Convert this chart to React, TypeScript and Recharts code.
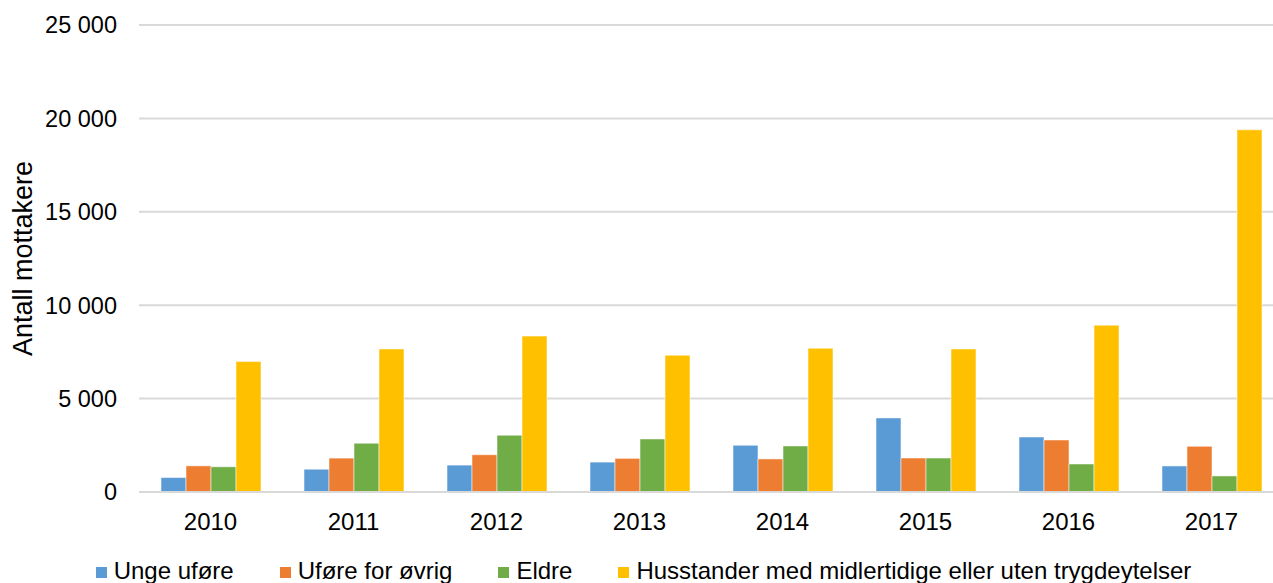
import { BarChart, Bar, XAxis, YAxis, CartesianGrid, Legend } from 'recharts'

const years = ['2010', '2011', '2012', '2013', '2014', '2015', '2016', '2017']
const ungeUfore = [775, 1220, 1440, 1600, 2500, 3965, 2945, 1395]
const uforeOvrig = [1400, 1815, 1995, 1800, 1770, 1820, 2785, 2445]
const eldre = [1350, 2610, 3040, 2840, 2465, 1820, 1500, 860]
const husstander = [6980, 7660, 8345, 7320, 7695, 7660, 8930, 19390]
const yTicks = [0, 5000, 10000, 15000, 20000, 25000]

const series = [
  { key: 'unge', name: 'Unge uføre', color: '#5B9BD5' },
  { key: 'ovrig', name: 'Uføre for øvrig', color: '#ED7D31' },
  { key: 'eldre', name: 'Eldre', color: '#70AD47' },
  { key: 'hus', name: 'Husstander med midlertidige eller uten trygdeytelser', color: '#FFC000' },
]

const data = years.map((y, i) => ({
  year: y,
  unge: ungeUfore[i],
  ovrig: uforeOvrig[i],
  eldre: eldre[i],
  hus: husstander[i],
}))

const font = '"Liberation Sans", Arial, sans-serif'
const fmt = (v: number) => String(v).replace(/\B(?=(\d{3})+(?!\d))/g, ' ')

function YTitle({ viewBox }: any) {
  const cy = viewBox.y + viewBox.height / 2
  return (
    <text x={23} y={cy} transform={`rotate(-90 23 ${cy})`} textAnchor="middle" dominantBaseline="central"
      fontSize={27} fontFamily={font} fill="#000">
      Antall mottakere
    </text>
  )
}

function LegendBox() {
  return (
    <div style={{ display: 'flex', justifyContent: 'center', gap: 46, paddingLeft: 4, height: 25, lineHeight: '25px', fontFamily: font, fontSize: 24, color: '#000', whiteSpace: 'nowrap' }}>
      {series.map((s) => (
        <div key={s.key} style={{ display: 'flex', alignItems: 'center' }}>
          <span style={{ width: 11, height: 11, background: s.color, marginRight: 7, display: 'inline-block', position: 'relative', top: 2 }} />
          <span>{s.name}</span>
        </div>
      ))}
    </div>
  )
}

export default function App() {
  return (
    <div style={{ position: 'absolute', left: 0, top: 0, width: 1273, height: 583, overflow: 'hidden', background: '#fff' }}>
      <BarChart width={1290} height={583} data={data} margin={{ top: 25, right: 7, bottom: 0, left: 0 }}
        barCategoryGap={22} barGap={0}>
        <CartesianGrid vertical={false} stroke="#d9d9d9" strokeWidth={2} />
        <XAxis dataKey="year" height={66} tickLine={false} axisLine={{ stroke: '#d9d9d9', strokeWidth: 2 }}
          tickSize={0} tickMargin={21} tick={{ fontSize: 24, fontFamily: font, fill: '#000' }} />
        <YAxis width={139} domain={[0, 25000]} ticks={yTicks} tickFormatter={fmt} tickLine={false} axisLine={false}
          tickSize={0} tickMargin={22} tick={{ fontSize: 23.5, fontFamily: font, fill: '#000' }} label={<YTitle />} />
        <Legend verticalAlign="bottom" content={() => <LegendBox />} />
        {series.map((s) => (
          <Bar key={s.key} dataKey={s.key} name={s.name} fill={s.color} stroke="#ffffff" strokeOpacity={0.5}
            strokeWidth={1} isAnimationActive={false} />
        ))}
      </BarChart>
    </div>
  )
}
